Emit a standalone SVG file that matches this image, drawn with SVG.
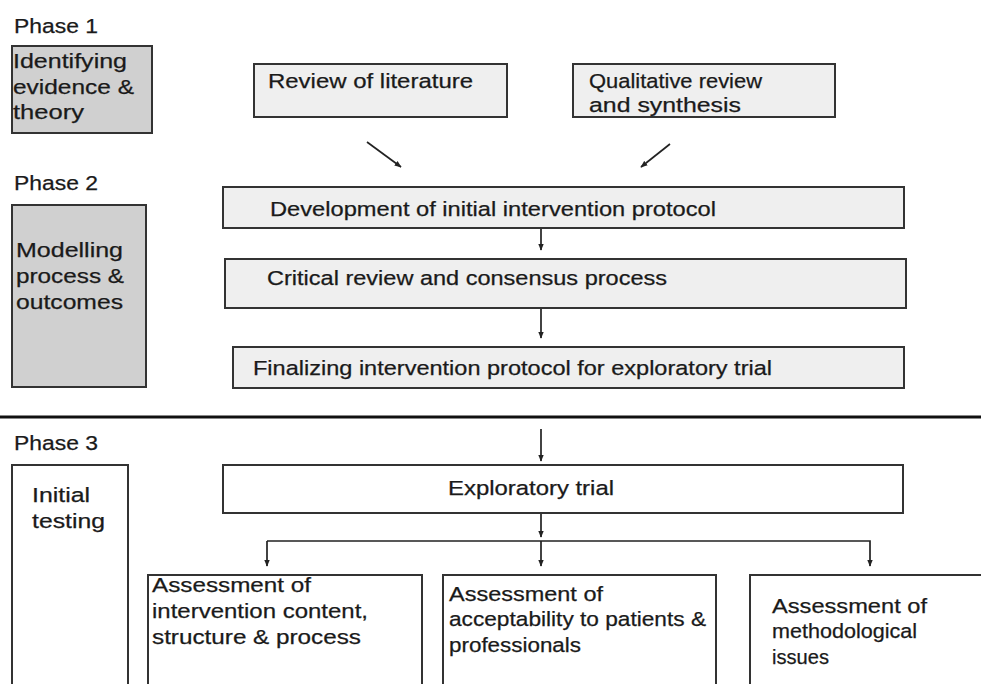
<svg xmlns="http://www.w3.org/2000/svg" width="981" height="684" viewBox="0 0 981 684">
<style>
text{font-family:"Liberation Sans",Arial,sans-serif;font-size:20.5px;fill:#1a1a1a;stroke:#1a1a1a;stroke-width:0.25}
.grey{fill:#d0d0d0;stroke:#333;stroke-width:2}
.light{fill:#efefef;stroke:#333;stroke-width:2}
.white{fill:#fff;stroke:#333;stroke-width:2}
.con{fill:none;stroke:#222;stroke-width:1.7}
</style>
<defs>
<marker id="ah" viewBox="0 0 10 10" refX="9" refY="5" markerWidth="7" markerHeight="7" orient="auto" markerUnits="userSpaceOnUse"><path d="M0,1 L10,5 L0,9 z" fill="#222"/></marker>
</defs>
<rect width="981" height="684" fill="#fff"/>
<g id="labels">
<text x="14" y="33" textLength="84" lengthAdjust="spacingAndGlyphs">Phase 1</text>
<text x="14" y="190" textLength="84" lengthAdjust="spacingAndGlyphs">Phase 2</text>
<text x="14" y="450" textLength="84" lengthAdjust="spacingAndGlyphs">Phase 3</text>
</g>
<g id="phase1">
<rect class="grey" x="12" y="46" width="140" height="87"/>
<text x="13" y="68" textLength="114" lengthAdjust="spacingAndGlyphs">Identifying</text>
<text x="13" y="94" textLength="121" lengthAdjust="spacingAndGlyphs">evidence &amp;</text>
<text x="13" y="119" textLength="71" lengthAdjust="spacingAndGlyphs">theory</text>
</g>
<g id="review">
<rect class="light" x="254" y="64" width="253" height="53"/>
<text x="268" y="88" textLength="205" lengthAdjust="spacingAndGlyphs">Review of literature</text>
</g>
<g id="qualitative">
<rect class="light" x="573" y="64" width="262" height="53"/>
<text x="589" y="88" textLength="173" lengthAdjust="spacingAndGlyphs">Qualitative review</text>
<text x="589" y="112" textLength="152" lengthAdjust="spacingAndGlyphs">and synthesis</text>
</g>
<g id="phase2">
<rect class="grey" x="12" y="205" width="134" height="182"/>
<text x="16" y="257" textLength="107" lengthAdjust="spacingAndGlyphs">Modelling</text>
<text x="16" y="283" textLength="108" lengthAdjust="spacingAndGlyphs">process &amp;</text>
<text x="16" y="309" textLength="107" lengthAdjust="spacingAndGlyphs">outcomes</text>
</g>
<g id="development">
<rect class="light" x="223" y="187" width="681" height="41"/>
<text x="270" y="216" textLength="446" lengthAdjust="spacingAndGlyphs">Development of initial intervention protocol</text>
</g>
<g id="critical">
<rect class="light" x="225" y="259" width="681" height="49"/>
<text x="267" y="285" textLength="400" lengthAdjust="spacingAndGlyphs">Critical review and consensus process</text>
</g>
<g id="finalizing">
<rect class="light" x="233" y="347" width="671" height="41"/>
<text x="253" y="375" textLength="519" lengthAdjust="spacingAndGlyphs">Finalizing intervention protocol for exploratory trial</text>
</g>
<g id="divider">
<line x1="0" y1="417" x2="981" y2="417" stroke="#111" stroke-width="3"/>
</g>
<g id="phase3">
<rect class="white" x="12" y="465" width="116" height="230"/>
<text x="32" y="502" textLength="58" lengthAdjust="spacingAndGlyphs">Initial</text>
<text x="32" y="528" textLength="73" lengthAdjust="spacingAndGlyphs">testing</text>
</g>
<g id="exploratory">
<rect class="white" x="223" y="465" width="680" height="48"/>
<text x="448" y="495" textLength="166" lengthAdjust="spacingAndGlyphs">Exploratory trial</text>
</g>
<g id="assess1">
<rect class="white" x="148" y="575" width="274" height="120"/>
<text x="152" y="592" textLength="159" lengthAdjust="spacingAndGlyphs">Assessment of</text>
<text x="152" y="618" textLength="216" lengthAdjust="spacingAndGlyphs">intervention content,</text>
<text x="152" y="644" textLength="209" lengthAdjust="spacingAndGlyphs">structure &amp; process</text>
</g>
<g id="assess2">
<rect class="white" x="443" y="575" width="273" height="120"/>
<text x="449" y="601" textLength="154" lengthAdjust="spacingAndGlyphs">Assessment of</text>
<text x="449" y="626" textLength="257" lengthAdjust="spacingAndGlyphs">acceptability to patients &amp;</text>
<text x="449" y="652" textLength="132" lengthAdjust="spacingAndGlyphs">professionals</text>
</g>
<g id="assess3">
<rect class="white" x="750" y="575" width="240" height="120"/>
<text x="772" y="613" textLength="155" lengthAdjust="spacingAndGlyphs">Assessment of</text>
<text x="772" y="638" textLength="145" lengthAdjust="spacingAndGlyphs">methodological</text>
<text x="772" y="664" textLength="57" lengthAdjust="spacingAndGlyphs">issues</text>
</g>
<g id="connectors">
<line class="con" x1="367" y1="142" x2="401" y2="167" marker-end="url(#ah)"/>
<line class="con" x1="670" y1="144" x2="641" y2="167" marker-end="url(#ah)"/>
<line class="con" x1="541" y1="229" x2="541" y2="250" marker-end="url(#ah)"/>
<line class="con" x1="541" y1="309" x2="541" y2="338" marker-end="url(#ah)"/>
<line class="con" x1="541" y1="429" x2="541" y2="461" marker-end="url(#ah)"/>
<line class="con" x1="541" y1="514" x2="541" y2="537" marker-end="url(#ah)"/>
<polyline class="con" points="267,541 870,541 870,566" marker-end="url(#ah)"/>
<line class="con" x1="267" y1="541" x2="267" y2="566" marker-end="url(#ah)"/>
<line class="con" x1="541" y1="541" x2="541" y2="566" marker-end="url(#ah)"/>
</g>
</svg>
